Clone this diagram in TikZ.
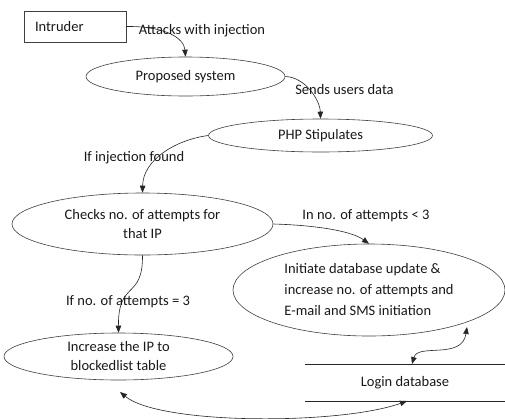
\documentclass[tikz,border=0pt]{standalone}
\usepackage{fontspec}
\setmainfont{Carlito}
\usetikzlibrary{arrows.meta,shapes.geometric}
\begin{document}
\begin{tikzpicture}[x=1pt,y=-1pt,
  every node/.style={font=\fontsize{14.5}{19}\selectfont, text=black!90},
  oval/.style={draw=black!75, line width=0.6pt, ellipse, inner sep=0pt},
  conn/.style={draw=black!85, line width=0.6pt, -{Triangle[length=7pt,width=5.5pt]}},
  dconn/.style={draw=black!85, line width=0.6pt, {Triangle[length=7pt,width=5.5pt]}-{Triangle[length=7pt,width=5.5pt]}},
  lbl/.style={inner sep=0pt}]
\useasboundingbox[fill=white] (0,0) rectangle (505,418);
\node[draw=black!75, line width=0.6pt, rectangle, minimum width=102pt, minimum height=31pt, inner xsep=11pt, text width=80pt, align=left] (intruder) at (75,26.5) {Intruder};
\node[oval, minimum width=199pt, minimum height=39pt] (proposed) at (185.5,76.5) {Proposed system};
\node[oval, minimum width=224pt, minimum height=33pt] (php) at (320.5,135.5) {PHP Stipulates};
\node[oval, minimum width=261pt, minimum height=62pt, align=center] (checks) at (142.5,224) {Checks no. of attempts for\\that IP};
\node[oval, minimum width=272pt, minimum height=92pt, align=left] (initiate) at (369,290) {Initiate database update \&\\[2pt]increase no. of attempts and\\[2pt]E-mail and SMS initiation};
\node[oval, minimum width=229pt, minimum height=47pt, align=center] (increase) at (118.5,356.5) {Increase the IP to\\blockedlist table};
\node[minimum width=200pt, minimum height=37pt, inner sep=0pt] (logindb) at (405,382.5) {Login database};
\draw[black!85, line width=0.6pt] (logindb.north west) -- (logindb.north east);
\draw[black!85, line width=0.6pt] (logindb.south west) -- (logindb.south east);
\coordinate (initb) at (467,327);
\coordinate (logint) at (412,364);
\coordinate (incb) at (120,392);
\coordinate (loginb) at (407,401);
% connectors
\draw[conn] (intruder.east) .. controls (165,26) and (184,38) .. (proposed.north);
\node[lbl] (l1) at (202,31) {Attacks with injection};
\draw[conn] (proposed.east) .. controls (305,77) and (320,100) .. (php.north);
\node[lbl] (l2) at (344.5,90) {Sends users data};
\draw[conn] (php.west) .. controls (175,140) and (143,160) .. (checks.north);
\node[lbl] (l3) at (134,158) {If injection found};
\draw[conn] (checks.east) .. controls (310,225) and (350,230) .. (initiate.north);
\node[lbl] (l4) at (366,216) {In no. of attempts < 3};
\draw[conn] (checks.south) .. controls (143,300) and (118,280) .. (increase.north);
\node[lbl] (l5) at (128,302) {If no. of attempts = 3};
\draw[dconn] (initb) .. controls (462,360) and (418,343) .. (logint);
\draw[dconn] (incb) .. controls (160,425) and (340,425) .. (loginb);
\end{tikzpicture}
\end{document}
